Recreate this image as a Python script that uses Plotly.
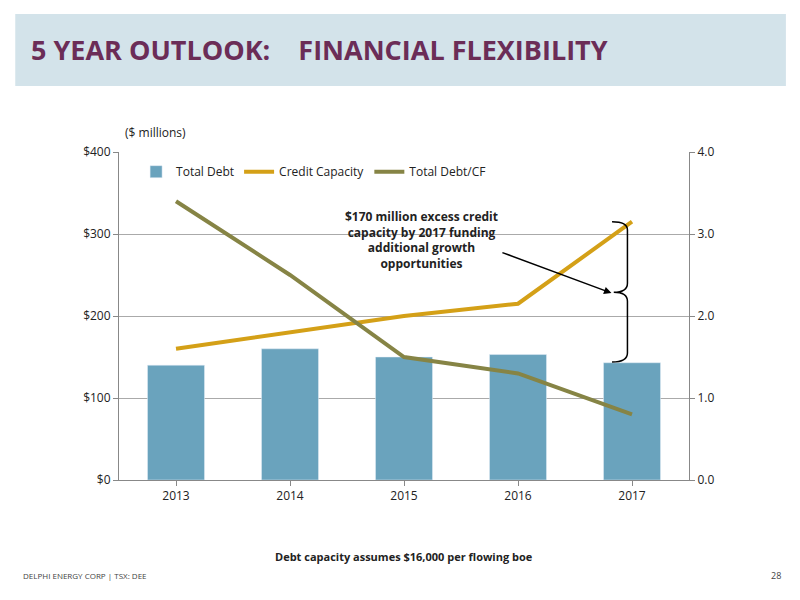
import plotly.graph_objects as go

years = ["2013", "2014", "2015", "2016", "2017"]
total_debt = [140, 160, 150, 153, 143]
credit_capacity = [160, 180, 200, 215, 315]
debt_cf = [3.4, 2.5, 1.5, 1.3, 0.8]
left_ticks = [0, 100, 200, 300, 400]
left_labels = ["$0", "$100", "$200", "$300", "$400"]
right_ticks = [0, 1, 2, 3, 4]
right_labels = ["0.0", "1.0", "2.0", "3.0", "4.0"]

F = "Open Sans"
fig = go.Figure()
fig.add_trace(go.Bar(x=years, y=total_debt, name="Total Debt", marker_color="#6aa3bd", width=0.5))
fig.add_trace(go.Scatter(x=years, y=credit_capacity, name="Credit Capacity", mode="lines",
                         line=dict(color="#d4a017", width=4)))
fig.add_trace(go.Scatter(x=years, y=debt_cf, name="Total Debt/CF", mode="lines", yaxis="y2",
                         line=dict(color="#868445", width=4)))

fig.update_layout(
    width=800, height=600, paper_bgcolor="white", plot_bgcolor="white",
    margin=dict(l=111, r=119, t=144, b=128),
    font=dict(family=F, size=12, color="#222"),
    xaxis=dict(range=[-0.5, 4.5], showline=True, linecolor="#888", ticks="outside", ticklen=5, tickcolor="#888"),
    yaxis=dict(range=[0, 400], tickvals=left_ticks, ticktext=left_labels, showline=True, linecolor="#888",
               gridcolor="#aaa", ticks="outside", ticklen=5, tickcolor="#888", zeroline=False),
    yaxis2=dict(range=[0, 4], tickvals=right_ticks, ticktext=right_labels, overlaying="y", side="right",
                showline=True, linecolor="#888", showgrid=False, ticks="outside", ticklen=5, tickcolor="#888"),
    legend=dict(orientation="h", x=0.03, y=0.94, xanchor="left", yanchor="middle", bgcolor="rgba(0,0,0,0)",
                font=dict(size=12)),
    showlegend=True,
    shapes=[
        dict(type="rect", xref="paper", yref="paper", x0=-0.182, x1=1.170, y0=1.201, y1=1.421,
             fillcolor="#d3e3ea", line_width=0, layer="below"),
        dict(type="path", xref="x", yref="y",
             path="M 3.825 315 Q 3.96 315 3.96 305 L 3.96 240 Q 3.96 229 3.84 229 Q 3.96 229 3.96 218 L 3.96 155 Q 3.96 144 3.825 144",
             line=dict(color="black", width=1.5)),
    ],
    annotations=[
        dict(text="<b>5 YEAR OUTLOOK:    FINANCIAL FLEXIBILITY</b>", xref="paper", yref="paper",
             x=-0.158, y=1.311, xanchor="left", yanchor="middle", showarrow=False,
             font=dict(size=27, color="#6b2d57", family=F)),
        dict(text="($ millions)", xref="paper", yref="paper", x=0.007, y=1.058, xanchor="left", yanchor="middle",
             showarrow=False, font=dict(size=12)),
        dict(text="<b>$170 million excess credit<br>capacity by 2017 funding<br>additional growth<br>opportunities</b>",
             x=2.15, y=293, xref="x", yref="y", showarrow=False, font=dict(size=12), align="center"),
        dict(x=3.82, y=228, ax=2.85, ay=278, xref="x", yref="y", axref="x", ayref="y",
             showarrow=True, arrowhead=2, arrowwidth=1.5, arrowcolor="black", text=""),
        dict(text="<b>Debt capacity assumes $16,000 per flowing boe</b>", xref="paper", yref="paper",
             x=0.5, y=-0.232, yanchor="middle", showarrow=False, font=dict(size=11)),
        dict(text="DELPHI ENERGY CORP | TSX: DEE", xref="paper", yref="paper", x=-0.172, y=-0.29,
             xanchor="left", yanchor="middle", showarrow=False, font=dict(size=8, color="#444")),
        dict(text="28", xref="paper", yref="paper", x=1.165, y=-0.29, xanchor="right", yanchor="middle",
             showarrow=False, font=dict(size=9, color="#444")),
    ],
)
fig.write_html("out.html")
